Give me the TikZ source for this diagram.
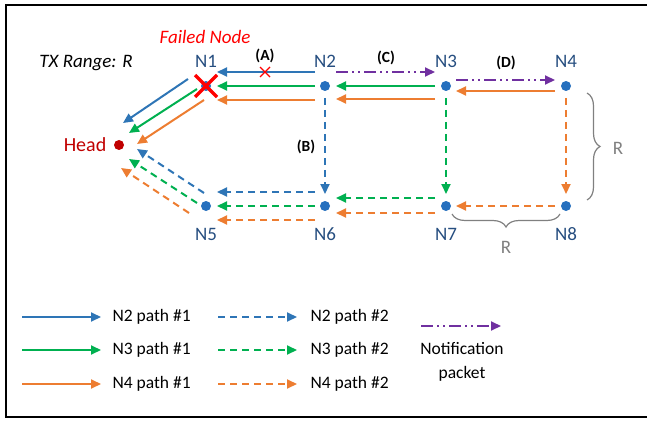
\documentclass[tikz,border=0pt]{standalone}
\usepackage{fontspec}
\setmainfont{Carlito}
\usetikzlibrary{arrows.meta,calc,decorations.pathreplacing}
\definecolor{cblue}{RGB}{46,117,182}
\definecolor{cdot}{RGB}{38,112,190}
\definecolor{clab}{RGB}{38,78,128}
\definecolor{cgreen}{RGB}{0,176,80}
\definecolor{corange}{RGB}{237,125,49}
\definecolor{cpurple}{RGB}{112,48,160}
\definecolor{chead}{RGB}{192,0,0}
\definecolor{cgray}{RGB}{128,128,128}
\tikzset{
  arr/.style={line width=2pt,-{Triangle[length=10pt,width=9pt]}},
  dsh/.style={arr,dash pattern=on 7pt off 5pt},
  notif/.style={arr,cpurple,dash pattern=on 12pt off 4pt on 2pt off 4pt on 2pt off 4pt},
  dot/.style={circle,fill=cdot,inner sep=0pt,minimum size=10pt},
  lab/.style={text=clab,font=\fontsize{19}{22}\selectfont},
  leg/.style={font=\fontsize{17.5}{21}\selectfont,anchor=west},
  tag/.style={font=\fontsize{15.5}{18}\selectfont\bfseries},
  brc/.style={cgray,line width=1.2pt,decorate,decoration={brace,amplitude=13pt}}
}
\begin{document}
\begin{tikzpicture}[x=1pt,y=-1pt]
\useasboundingbox (0,0) rectangle (647,422);
% frame
\draw[line width=2pt] (660,5) -- (5.5,5) -- (5.5,417) -- (660,417);
% nodes
\node[dot] (n1) at (206,86) {};
\node[dot] (n2) at (325,86) {};
\node[dot] (n3) at (446,86) {};
\node[dot] (n4) at (566,86) {};
\node[dot] (n5) at (206,206) {};
\node[dot] (n6) at (325,206) {};
\node[dot] (n7) at (446,206) {};
\node[dot] (n8) at (566,206) {};
\node[circle,fill=chead,inner sep=0pt,minimum size=10pt] (head) at (119,145) {};
% labels
\node[lab] (l1) at (206,61) {N1};
\node[lab] (l2) at (325,61) {N2};
\node[lab] (l3) at (446,61) {N3};
\node[lab] (l4) at (566,61) {N4};
\node[lab] (l5) at (206,234) {N5};
\node[lab] (l6) at (325,234) {N6};
\node[lab] (l7) at (446,234) {N7};
\node[lab] (l8) at (566,234) {N8};
\node[text=chead,font=\fontsize{20}{24}\selectfont] (lh) at (85,145) {Head};
\node[text=red,font=\fontsize{19}{22}\selectfont\itshape] (fn) at (205,37) {Failed Node};
\node[font=\fontsize{19}{22}\selectfont\itshape] (tx) at (86,63) {TX Range: R};
\node[tag] (ta) at (265,56) {(A)};
\node[tag] (tb) at (306,147) {(B)};
\node[tag] (tc) at (386,58) {(C)};
\node[tag] (td) at (506,63) {(D)};
% N2 -> N1 row
\draw[arr,cblue] ($(n2)+(-10,-14)$) -- ($(n1)+(11,-14)$);
\draw[arr,cgreen] ($(n2)+(-10,0)$) -- ($(n1)+(11,0)$);
\draw[arr,corange] ($(n2)+(-10,14)$) -- ($(n1)+(11,14)$);
% N1 -> Head
\draw[arr,cblue] ($(n1)+(-18,-7)$) -- ($(head)+(4,-22)$);
\draw[arr,cgreen] ($(n1)+(-9,3)$) -- ($(head)+(10,-12)$);
\draw[arr,corange] ($(n1)+(-2,14)$) -- ($(head)+(18,-1)$);
% N5 -> Head (dashed)
\draw[dsh,cblue] ($(n5)+(-2,-13)$) -- ($(head)+(18,4)$);
\draw[dsh,cgreen] ($(n5)+(-9,-3)$) -- ($(head)+(10,14)$);
\draw[dsh,corange] ($(n5)+(-17,7)$) -- ($(head)+(2,23)$);
% N6 -> N5
\draw[dsh,cblue] ($(n6)+(-10,-14)$) -- ($(n5)+(11,-14)$);
\draw[dsh,cgreen] ($(n6)+(-10,0)$) -- ($(n5)+(11,0)$);
\draw[dsh,corange] ($(n6)+(-10,14)$) -- ($(n5)+(11,14)$);
% N2 -> N6
\draw[dsh,cblue] ($(n2)+(0,12)$) -- ($(n6)+(0,-12)$);
% N3 -> N2
\draw[arr,cgreen] ($(n3)+(-11,0)$) -- ($(n2)+(11,0)$);
\draw[arr,corange] ($(n3)+(-11,13)$) -- ($(n2)+(11,13)$);
% notification
\draw[notif] ($(n2)+(11,-14)$) -- ($(n3)+(-11,-14)$);
\draw[notif] ($(n3)+(10,-6)$) -- ($(n4)+(-11,-6)$);
% N4 -> N3
\draw[arr,corange] ($(n4)+(-11,5)$) -- ($(n3)+(10,5)$);
% verticals
\draw[dsh,cgreen] ($(n3)+(0,12)$) -- ($(n7)+(0,-12)$);
\draw[dsh,corange] ($(n4)+(0,12)$) -- ($(n8)+(0,-12)$);
% N7 -> N6
\draw[dsh,cgreen] ($(n7)+(-11,-8)$) -- ($(n6)+(11,-8)$);
\draw[dsh,corange] ($(n7)+(-11,7)$) -- ($(n6)+(11,7)$);
% N8 -> N7
\draw[dsh,corange] ($(n8)+(-11,0)$) -- ($(n7)+(10,0)$);
% failures
\draw[red,line width=3.2pt] ($(n1)+(-11,-11)$) -- ($(n1)+(11,11)$) ($(n1)+(-11,11)$) -- ($(n1)+(11,-11)$);
\coordinate (fx) at (265,72);
\draw[red,line width=1.2pt] ($(fx)+(-5,-5)$) -- ($(fx)+(5,5)$) ($(fx)+(-5,5)$) -- ($(fx)+(5,-5)$);
% braces
\draw[brc] ($(n4)+(21,7)$) -- ($(n8)+(21,-6)$);
\node[text=cgray,font=\fontsize{19}{22}\selectfont] (r1) at (618,148) {R};
\draw[brc,decoration={brace,amplitude=13pt,mirror}] ($(n7)+(6,8)$) -- ($(n8)+(-6,8)$);
\node[text=cgray,font=\fontsize{19}{22}\selectfont] (r2) at (506,247) {R};
% legend
\coordinate (a1) at (22,317); \coordinate (b1) at (101,317);
\coordinate (a2) at (22,350); \coordinate (b2) at (101,350);
\coordinate (a3) at (22,384); \coordinate (b3) at (101,384);
\coordinate (c1) at (218,317); \coordinate (d1) at (297,317);
\coordinate (c2) at (218,350); \coordinate (d2) at (297,350);
\coordinate (c3) at (218,384); \coordinate (d3) at (297,384);
\coordinate (p1) at (421,326); \coordinate (p2) at (501,326);
\draw[arr,cblue] (a1) -- (b1);
\draw[arr,cgreen] (a2) -- (b2);
\draw[arr,corange] (a3) -- (b3);
\draw[dsh,cblue] (c1) -- (d1);
\draw[dsh,cgreen] (c2) -- (d2);
\draw[dsh,corange] (c3) -- (d3);
\draw[notif] (p1) -- (p2);
\node[leg] (t1) at (109,317) {N2 path \#1};
\node[leg] (t2) at (109,350) {N3 path \#1};
\node[leg] (t3) at (109,384) {N4 path \#1};
\node[leg] (t4) at (307,317) {N2 path \#2};
\node[leg] (t5) at (307,350) {N3 path \#2};
\node[leg] (t6) at (307,384) {N4 path \#2};
\node[font=\fontsize{17.5}{24}\selectfont,align=center] (t7) at (462,362) {Notification\\packet};
\end{tikzpicture}
\end{document}
